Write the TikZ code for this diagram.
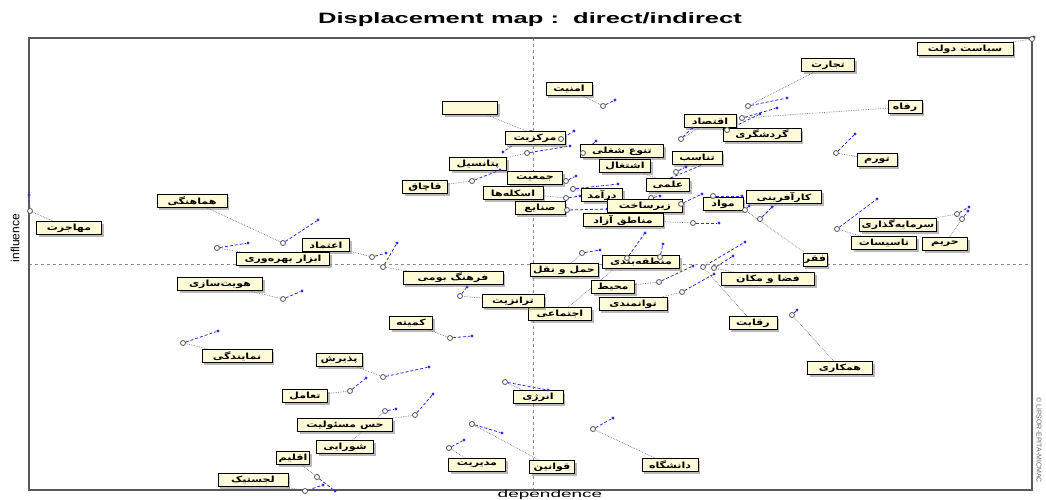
\documentclass[tikz,border=0pt]{standalone}
\usepackage{fontspec}
\setmainfont{Liberation Sans}
\newfontfamily\arabicfont[Script=Arabic, BoldFont={DejaVu Sans Bold}]{DejaVu Sans}
\TeXXeTstate=1
\usepackage{tikz}
\usetikzlibrary{shadows}

\definecolor{labelfill}{HTML}{FFFBD8}
\definecolor{movblue}{HTML}{2E2EE6}
\newcommand{\prs}[1]{{\arabicfont\beginR #1\endR}}

\pgfdeclarelayer{bg}
\pgfsetlayers{bg,main}

\begin{document}
\begin{tikzpicture}[
        x=1pt, y=-1pt,
        varlabel/.style={rectangle, draw=black, line width=0.9pt, fill=labelfill, inner sep=1pt, minimum height=13pt, font=\fontsize{8.5}{9}\selectfont\bfseries, drop shadow={shadow xshift=2pt, shadow yshift=-2pt, fill=black!55}},
        dirpt/.style={circle, draw=black!60, fill=white, line width=0.9pt, inner sep=0pt, minimum size=5pt},
        indpt/.style={circle, fill=movblue, inner sep=0pt, minimum size=3.2pt},
        leader/.style={draw=black!50, densely dotted, line width=0.7pt},
        movline/.style={draw=movblue, densely dashed, line width=0.8pt},
        axis/.style={draw=black!45, dashed, line width=0.5pt}
    ]

        \useasboundingbox (0,0) rectangle (1046,499);

        % --- Frame and axes ---
        \coordinate (NW) at (29,38);
        \coordinate (SE) at (1032,490);
        \coordinate (C) at (533,264);
        \draw[axis] (C |- NW) -- (C |- SE);
        \draw[axis] (C -| NW) -- (C -| SE);
        \draw[black!65, line width=1.4pt] (NW) rectangle (SE);

        % --- Titles ---
        \node[font=\bfseries\fontsize{15}{15}\selectfont] (title) at (530,20) {\scalebox{1.7}[1]{Displacement map :\ \ direct/indirect}};
        \node[font=\fontsize{12}{12}\selectfont, rotate=90] (infl) at (15,238) {influence};
        \node[font=\fontsize{10}{10}\selectfont, anchor=north, inner sep=0pt] (dep) at (550,490.5) {\scalebox{1.9}[1]{dependence}};
        \node[font=\fontsize{7}{7}\selectfont, text=black!60, rotate=-90] (copy) at (1039,440) {\textcopyright\ LIPSOR-EPITA-MICMAC};

        % --- Variables: label, direct position (circle), indirect position (blue dot) ---
        \foreach \i/\txt/\lx/\ly/\w/\ox/\oy/\bx/\by in {
            1/سیاست دولت/965/49/96/1032/39/1034/37,
            2/تجارت/828/65/53/748/106/787/98,
            3/امنیت/569/89/46/603/106/615/100,
            4/رفاه/905/107/34/742/118/777/108,
            5/اقتصاد/710/121/52/681/139/692/128,
            6/گردشگری/762/135/78/727/130/760/114,
            7//470/108/55/531/133/503/152,
            8/مرکزیت/535/138/60/561/139/574/131,
            9/تنوع شغلی/622/151/83/583/153/596/141,
            10/اشتغال/625/166/51/663/181/707/163,
            11/تناسب/697/158/50/676/172/686/167,
            12/پتانسیل/478/164/57/527/153/570/146,
            13/جمعیت/535/178/55/566/181/576/176,
            14/قاچاق/425/187/45/472/181/500/170,
            15/اسکله‌ها/513/193/60/566/198/580/196,
            16/صنایع/540/208/50/567/210/607/209,
            17/درآمد/602/195/41/573/189/618/184,
            18/علمی/668/185/43/651/198/660/196,
            19/زیرساخت/645/206/75/681/204/702/194,
            20/مناطق آزاد/623/220/80/693/223/719/223,
            21/مواد/723/204/40/713/196/742/196,
            22/کارآفرینی/784/197/75/760/219/772/207,
            23/تورم/877/160/40/836/153/855/134,
            24/سرمایه‌گذاری/898/225/77/957/214/969/207,
            25/تاسیسات/884/243/65/837/229/877/199,
            26/حریم/945/244/45/962/219/968/211,
            27/فقر/815/260/24/745/210/749/206,
            28/فضا و مکان/768/279/93/714/268/733/256,
            29/رقابت/753/323/48/703/267/745/242,
            30/همکاری/840/368/65/792/315/797/310,
            31/منطقه‌بندی/641/262/77/660/257/663/244,
            32/حمل و نقل/564/270/68/582/253/600/250,
            33/محیط/613/287/43/659/282/693/266,
            34/توانمندی/633/304/68/682/292/714/274,
            35/اجتماعی/560/314/63/627/258/645/233,
            36/ترانزیت/513/301/62/460/296/467/287,
            37/فرهنگ بومی/453/278/100/383/267/397/243,
            38/کمیته/411/323/43/450/338/472/336,
            39/اعتماد/326/245/47/372/257/386/253,
            40/ابزار بهره‌وری/283/259/93/217/248/248/243,
            41/هماهنگی/192/201/70/283/243/318/220,
            42/مهاجرت/69/228/65/30/211/29/195,
            43/هویت‌سازی/220/284/85/283/299/302/291,
            44/نمایندگی/237/356/70/183/343/218/331,
            45/پذیرش/339/360/46/383/377/429/367,
            46/تعامل/305/396/45/350/391/366/378,
            47/حس مسئولیت/345/425/95/415/415/433/394,
            48/شورایی/345/447/57/385/411/396/409,
            49/اقلیم/293/458/33/317/477/335/491,
            50/لجستیک/253/480/70/305/491/323/485,
            51/مدیریت/477/465/57/449/448/464/440,
            52/قوانین/552/467/45/472/424/502/433,
            53/انرژی/538/397/50/505/382/548/390,
            54/دانشگاه/670/465/56/593/429/613/418} {
            \node[varlabel, minimum width=\w pt] (l\i) at (\lx,\ly) {\scalebox{1.3}[1]{\prs{\txt}}};
            \node[indpt] (b\i) at (\bx,\by) {};
            \node[dirpt] (o\i) at (\ox,\oy) {};
            \begin{pgfonlayer}{bg}
                \draw[leader] (l\i) -- (o\i);
                \draw[movline] (o\i) -- (b\i);
            \end{pgfonlayer}
        }

    \end{tikzpicture}
\end{document}
